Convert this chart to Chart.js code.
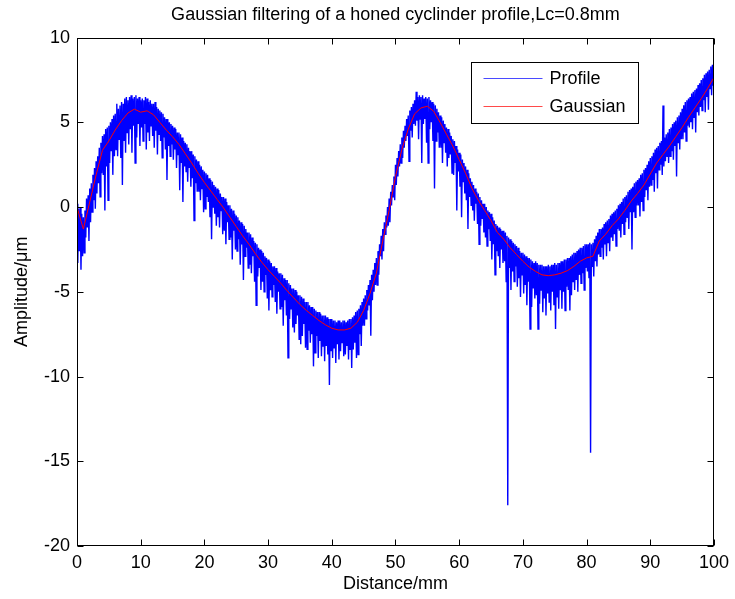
<!DOCTYPE html>
<html>
<head>
<meta charset="utf-8">
<script src="https://cdn.jsdelivr.net/npm/chart.js@4.4.0/dist/chart.umd.min.js"></script>
<style>
    html, body { margin: 0; padding: 0; background: #fff; }
</style>
</head>
<body>
<canvas id="profileChart" width="735" height="599"></canvas>
<script>
// ===== DATA =====
const chartTitle = 'Gaussian filtering of a honed cyclinder profile,Lc=0.8mm';
const xTitle = 'Distance/mm';
const yTitle = 'Amplitude/\u03bcm';
const seriesNames = ['Profile', 'Gaussian'];

const xTickValues = [0, 10, 20, 30, 40, 50, 60, 70, 80, 90, 100];
const yTickValues = [-20, -15, -10, -5, 0, 5, 10];

// raw profile, one sample every 0.125 mm (one row per mm, 0 .. 100 mm)
const profileStep = 0.125;
const profileAmplitude = [
    0.2, -3.3, -0.1, -2.6, 0.0, -3.7, -0.4, -2.9,
    -0.6, -2.7, -0.2, -1.8, 0.5, -1.2, 0.7, -2.0,
    1.1, -0.9, 1.4, -0.3, 1.9, 0.4, 2.3, -0.1,
    2.7, 0.8, 3.0, 1.4, 3.5, 0.6, 3.8, 2.0,
    4.2, 1.9, 4.3, -0.2, 4.6, 2.4, 4.7, 0.4,
    4.8, 2.6, 5.0, 3.3, 5.2, 1.9, 5.4, 3.0,
    5.5, 3.4, 6.1, 3.0, 5.8, 4.0, 6.0, 2.9,
    6.2, 1.3, 6.1, 3.9, 6.4, 3.2, 6.5, 4.4,
    6.3, 3.7, 6.5, 4.6, 6.6, 3.2, 6.4, 4.8,
    6.5, 2.6, 6.6, 4.1, 6.4, 4.9, 6.5, 3.6,
    // 10 mm
    6.3, 4.7, 6.4, 3.9, 6.3, 4.9, 6.5, 3.4,
    6.4, 4.4, 6.2, 3.9, 6.3, 4.8, 6.1, 4.2,
    6.1, 3.5, 6.2, 4.5, 5.9, 3.1, 5.8, 4.3,
    5.7, 3.9, 5.6, 2.9, 5.5, 4.1, 5.3, 3.4,
    5.2, 1.6, 5.2, 3.6, 5.0, 3.0, 4.9, 3.7,
    4.8, 2.8, 4.7, 3.4, 4.6, 2.3, 4.4, 3.1,
    4.4, 1.0, 4.3, 2.6, 4.1, 0.3, 3.9, 2.4,
    3.8, 2.1, 3.7, 1.5, 3.5, 2.3, 3.3, 1.2,
    3.3, 1.7, 3.1, -0.8, 3.0, 1.4, 2.8, 0.9,
    2.7, 0.9, 2.5, 0.4, 2.4, 1.1, 2.2, -0.3,
    // 20 mm
    2.1, -0.1, 2.0, 0.6, 1.9, 0.3, 1.7, -0.6,
    1.6, -1.9, 1.5, 0.0, 1.3, -0.4, 1.2, -1.1,
    1.1, -0.6, 1.0, -1.2, 0.8, -0.2, 0.6, -1.6,
    0.6, -1.4, 0.5, -2.2, 0.3, -0.9, 0.1, -1.9,
    0.1, -1.8, -0.1, -3.1, -0.2, -1.4, -0.4, -2.5,
    -0.5, -2.6, -0.6, -1.9, -0.8, -3.4, -0.9, -2.2,
    -1.0, -4.3, -1.1, -2.9, -1.3, -2.4, -1.5, -3.6,
    -1.5, -3.4, -1.6, -3.9, -1.8, -2.9, -2.0, -4.4,
    -2.1, -5.8, -2.2, -4.1, -2.4, -3.6, -2.5, -4.9,
    -2.6, -4.4, -2.7, -5.0, -2.9, -4.0, -3.0, -5.4,
    // 30 mm
    -3.1, -6.1, -3.2, -4.9, -3.3, -5.3, -3.5, -4.6,
    -3.5, -5.6, -3.6, -6.3, -3.8, -5.0, -3.9, -6.0,
    -3.9, -5.9, -4.0, -7.0, -4.2, -5.5, -4.3, -6.4,
    -4.3, -8.9, -4.5, -6.6, -4.6, -6.0, -4.8, -7.1,
    -4.8, -7.4, -4.9, -6.9, -5.0, -6.4, -5.2, -7.8,
    -5.2, -8.1, -5.3, -7.6, -5.4, -6.9, -5.6, -8.3,
    -5.6, -8.4, -5.6, -7.3, -5.8, -8.0, -5.9, -7.5,
    -5.9, -9.4, -6.0, -8.6, -6.1, -7.6, -6.2, -8.9,
    -6.2, -7.9, -6.3, -8.8, -6.4, -8.2, -6.4, -9.1,
    -6.4, -8.2, -6.5, -8.7, -6.6, -10.5, -6.6, -8.5,
    // 40 mm
    -6.6, -8.9, -6.7, -8.3, -6.7, -9.2, -6.8, -8.1,
    -6.7, -9.0, -6.7, -8.5, -6.8, -8.0, -6.7, -8.8,
    -6.7, -8.7, -6.8, -8.2, -6.7, -9.0, -6.6, -8.4,
    -6.6, -9.5, -6.5, -8.4, -6.4, -8.0, -6.2, -8.9,
    -6.1, -8.7, -6.0, -7.5, -5.8, -8.2, -5.6, -7.0,
    -5.4, -7.0, -5.2, -6.6, -4.9, -6.1, -4.6, -5.8,
    -4.3, -7.6, -4.0, -5.5, -3.7, -5.0, -3.3, -4.6,
    -3.0, -4.6, -2.6, -4.0, -2.2, -2.9, -1.7, -3.1,
    -1.3, -2.6, -0.9, -1.6, -0.5, -1.2, 0.0, -1.1,
    0.5, -0.9, 0.9, 0.1, 1.3, 0.6, 1.8, 0.4,
    // 50 mm
    2.5, 1.3, 2.9, 1.8, 3.3, 2.4, 3.7, 2.6,
    4.1, 2.9, 4.5, 3.5, 4.8, 3.9, 5.2, 4.2,
    5.4, 2.7, 5.7, 4.5, 5.9, 4.1, 6.1, 4.9,
    6.3, 4.8, 6.8, 5.1, 6.5, 4.0, 6.6, 5.2,
    6.5, 2.6, 6.6, 4.9, 6.4, 5.2, 6.5, 3.8,
    6.4, 2.6, 6.5, 4.6, 6.3, 5.0, 6.2, 3.9,
    6.1, 1.1, 6.0, 3.9, 5.8, 4.4, 5.6, 3.5,
    5.4, 3.5, 5.3, 2.6, 5.1, 3.8, 4.9, 3.2,
    4.7, 2.4, 4.6, 2.9, 4.4, 3.1, 4.2, 2.0,
    4.0, 1.9, 3.9, 2.6, 3.6, -0.2, 3.4, 2.1,
    // 60 mm
    3.2, 1.2, 3.1, -0.6, 2.8, 1.5, 2.6, 0.8,
    2.4, 0.4, 2.2, -1.3, 2.0, 0.6, 1.7, 0.1,
    1.5, -0.2, 1.3, -0.8, 1.1, 0.2, 0.9, -1.0,
    0.8, -2.2, 0.6, -1.1, 0.4, -0.7, 0.2, -1.5,
    0.2, -1.8, 0.0, -2.3, -0.2, -1.3, -0.3, -2.0,
    -0.4, -3.1, -0.6, -2.2, -0.8, -4.0, -1.0, -2.6,
    -1.1, -2.9, -1.2, -3.6, -1.3, -2.5, -1.4, -3.3,
    -1.4, -3.2, -1.5, -4.4, -1.7, -17.6, -1.8, -3.6,
    -1.9, -4.9, -2.0, -3.8, -2.1, -4.4, -2.2, -3.5,
    -2.3, -4.7, -2.4, -4.2, -2.6, -5.3, -2.7, -4.0,
    // 70 mm
    -2.7, -5.1, -2.8, -4.6, -2.9, -5.8, -3.0, -4.4,
    -3.0, -7.2, -3.1, -5.9, -3.2, -4.8, -3.3, -5.4,
    -3.2, -5.2, -3.3, -7.2, -3.4, -5.7, -3.4, -4.9,
    -3.4, -6.2, -3.5, -5.4, -3.5, -6.4, -3.5, -5.1,
    -3.4, -5.6, -3.5, -6.1, -3.4, -5.0, -3.4, -5.8,
    -3.3, -7.2, -3.4, -5.3, -3.3, -6.0, -3.3, -4.9,
    -3.2, -6.0, -3.2, -5.0, -3.1, -6.1, -3.1, -4.7,
    -3.0, -4.9, -3.0, -6.1, -2.9, -5.2, -2.8, -4.4,
    -2.7, -4.9, -2.7, -4.3, -2.6, -5.0, -2.5, -4.0,
    -2.4, -4.5, -2.4, -3.9, -2.3, -4.9, -2.2, -3.6,
    // 80 mm
    -2.2, -3.8, -2.2, -4.2, -2.1, -14.5, -2.2, -3.5,
    -2.1, -4.1, -1.9, -3.2, -1.7, -3.5, -1.5, -2.8,
    -1.3, -2.9, -1.3, -2.4, -1.2, -3.1, -1.0, -2.2,
    -0.9, -2.9, -0.8, -2.1, -0.7, -2.6, -0.5, -1.8,
    -0.4, -2.0, -0.3, -1.6, -0.2, -2.3, -0.1, -1.3,
    0.1, -1.4, 0.2, -1.8, 0.3, -1.0, 0.5, -1.6,
    0.6, -0.9, 0.7, -0.6, 0.9, -1.3, 1.0, -0.3,
    1.1, -2.5, 1.2, -0.3, 1.4, -0.6, 1.5, 0.1,
    1.6, 0.1, 1.7, -0.55, 1.9, 0.3, 2.0, -0.2,
    2.2, 0.6, 2.3, 1.0, 2.5, 0.4, 2.7, 1.2,
    // 90 mm
    2.9, 1.3, 3.0, 1.6, 3.2, 0.9, 3.4, 2.0,
    3.5, 1.1, 3.6, 2.2, 3.8, 2.5, 3.9, 1.9,
    6.0, 2.4, 4.1, 2.7, 4.3, 3.0, 4.4, 2.6,
    4.6, 3.0, 4.7, 3.3, 4.9, 2.8, 5.0, 3.6,
    5.1, 1.8, 5.3, 3.8, 5.4, 3.4, 5.6, 4.0,
    5.8, 4.0, 6.0, 4.4, 6.2, 3.9, 6.3, 4.8,
    6.4, 4.7, 6.5, 5.0, 6.7, 4.6, 6.8, 5.3,
    6.9, 4.4, 7.0, 5.6, 7.2, 5.4, 7.3, 5.9,
    7.5, 5.7, 7.6, 6.3, 7.8, 5.6, 7.9, 6.5,
    8.0, 5.75, 8.1, 7.0, 8.3, 6.6, 8.4, 7.2,
    // 100 mm
    8.0
];

// gaussian mean line, one sample per mm (0 .. 100 mm)
const gaussStep = 1;
const gaussAmplitude = [
    0.0, -1.3, 0.3, 1.9, 3.35, 3.9, 4.55, 5.1, 5.55, 5.78,
    5.6, 5.68, 5.45, 5.0, 4.55, 4.15, 3.7, 3.15, 2.6, 2.0,
    1.45, 0.95, 0.45, -0.05, -0.6, -1.15, -1.7, -2.2, -2.75, -3.25,
    -3.7, -4.1, -4.5, -4.95, -5.35, -5.75, -6.1, -6.4, -6.7, -6.95,
    -7.15, -7.25, -7.25, -7.15, -6.8, -6.1, -5.1, -3.9, -2.0, -0.2,
    1.8, 3.4, 4.6, 5.5, 5.85, 5.95, 5.65, 5.0, 4.3, 3.6,
    2.8, 2.0, 1.1, 0.4, -0.2, -0.8, -1.5, -1.9, -2.4, -2.8,
    -3.2, -3.55, -3.8, -4.0, -4.05, -4.0, -3.9, -3.75, -3.5, -3.2,
    -3.0, -2.9, -2.0, -1.6, -1.1, -0.7, -0.2, 0.35, 0.8, 1.3,
    1.95, 2.6, 3.1, 3.6, 4.15, 4.7, 5.3, 5.85, 6.4, 7.0,
    7.65
];

const FONT = "'Liberation Sans', Arial, Helvetica, sans-serif";
const TICK_LEN = 6;

function toPoints(values, step) {
    return values.map((v, i) => ({ x: i * step, y: v }));
}

// ===== BOX + INWARD TICKS (matlab style) =====
const boxTicksPlugin = {
    id: 'boxTicks',
    afterDatasetsDraw(chart) {
        const { ctx, chartArea: a, scales } = chart;
        const L = Math.round(a.left) + 0.5, R = Math.round(a.right) - 0.5;
        const T = Math.round(a.top) + 0.5, B = Math.round(a.bottom) - 0.5;
        ctx.save();
        ctx.strokeStyle = '#000';
        ctx.lineWidth = 1;
        ctx.beginPath();
        xTickValues.forEach(v => {
            const px = Math.round(scales.x.getPixelForValue(v)) + 0.5;
            ctx.moveTo(px, B); ctx.lineTo(px, B - TICK_LEN);
            ctx.moveTo(px, T); ctx.lineTo(px, T + TICK_LEN);
        });
        yTickValues.forEach(v => {
            const py = Math.round(scales.y.getPixelForValue(v)) + 0.5;
            ctx.moveTo(L, py); ctx.lineTo(L + TICK_LEN, py);
            ctx.moveTo(R, py); ctx.lineTo(R - TICK_LEN, py);
        });
        ctx.stroke();
        ctx.strokeRect(L, T, R - L, B - T);
        ctx.restore();
    }
};

// ===== LEGEND BOX INSIDE PLOT =====
const insideLegendPlugin = {
    id: 'insideLegend',
    afterDraw(chart) {
        const { ctx, chartArea: a } = chart;
        const w = 167, h = 61;
        const x0 = Math.round(a.right - 76 - w) + 0.5;
        const y0 = Math.round(a.top + 24) + 0.5;
        ctx.save();
        ctx.fillStyle = '#fff';
        ctx.fillRect(x0, y0, w, h);
        ctx.strokeStyle = '#000';
        ctx.lineWidth = 1;
        ctx.strokeRect(x0, y0, w, h);
        ctx.font = '18px ' + FONT;
        ctx.textBaseline = 'middle';
        ctx.textAlign = 'left';
        chart.data.datasets.forEach((ds, i) => {
            const ly = Math.round(y0 + 15 + i * 28) + 0.5;
            ctx.strokeStyle = ds.legendColor;
            ctx.lineWidth = 1;
            ctx.beginPath();
            ctx.moveTo(x0 + 12, ly);
            ctx.lineTo(x0 + 71, ly);
            ctx.stroke();
            ctx.fillStyle = '#000';
            ctx.fillText(ds.label, x0 + 78, ly + 1);
        });
        ctx.restore();
    }
};

const ctx = document.getElementById('profileChart').getContext('2d');
new Chart(ctx, {
    type: 'line',
    data: {
        datasets: [
            {
                label: seriesNames[0],
                data: toPoints(profileAmplitude, profileStep),
                borderColor: '#0000ff',
                legendColor: '#4a4aff',
                borderWidth: 1.4,
                pointRadius: 0,
                tension: 0,
                fill: false,
                order: 1
            },
            {
                label: seriesNames[1],
                data: toPoints(gaussAmplitude, gaussStep),
                borderColor: '#ff0000',
                legendColor: '#ff4a4a',
                borderWidth: 1,
                pointRadius: 0,
                tension: 0,
                fill: false,
                order: 0
            }
        ]
    },
    options: {
        responsive: false,
        animation: false,
        layout: { padding: { left: 0, right: 17, top: 0, bottom: 0 } },
        scales: {
            x: {
                type: 'linear',
                min: 0,
                max: 100,
                afterBuildTicks: s => { s.ticks = xTickValues.map(v => ({ value: v })); },
                afterFit: s => { s.height = 53; },
                grid: { display: false, drawTicks: false },
                border: { display: false },
                ticks: { color: '#000', font: { size: 18, family: FONT }, padding: 6, maxRotation: 0 },
                title: { display: true, text: xTitle, color: '#000', font: { size: 18, family: FONT }, padding: { top: 0, bottom: 4 } }
            },
            y: {
                type: 'linear',
                min: -20,
                max: 10,
                afterBuildTicks: s => { s.ticks = yTickValues.map(v => ({ value: v })); },
                afterFit: s => { s.width = 77; },
                grid: { display: false, drawTicks: false },
                border: { display: false },
                ticks: { color: '#000', font: { size: 18, family: FONT }, padding: 7 },
                title: { display: true, text: yTitle, color: '#000', font: { size: 18, family: FONT }, padding: { top: 11, bottom: 0 } }
            }
        },
        plugins: {
            legend: { display: false },
            tooltip: { enabled: false },
            title: {
                display: true,
                text: chartTitle,
                color: '#000',
                fullSize: false,
                font: { size: 18, weight: 'normal', family: FONT },
                padding: { top: 4, bottom: 12 }
            }
        }
    },
    plugins: [boxTicksPlugin, insideLegendPlugin]
});
</script>
</body>
</html>
